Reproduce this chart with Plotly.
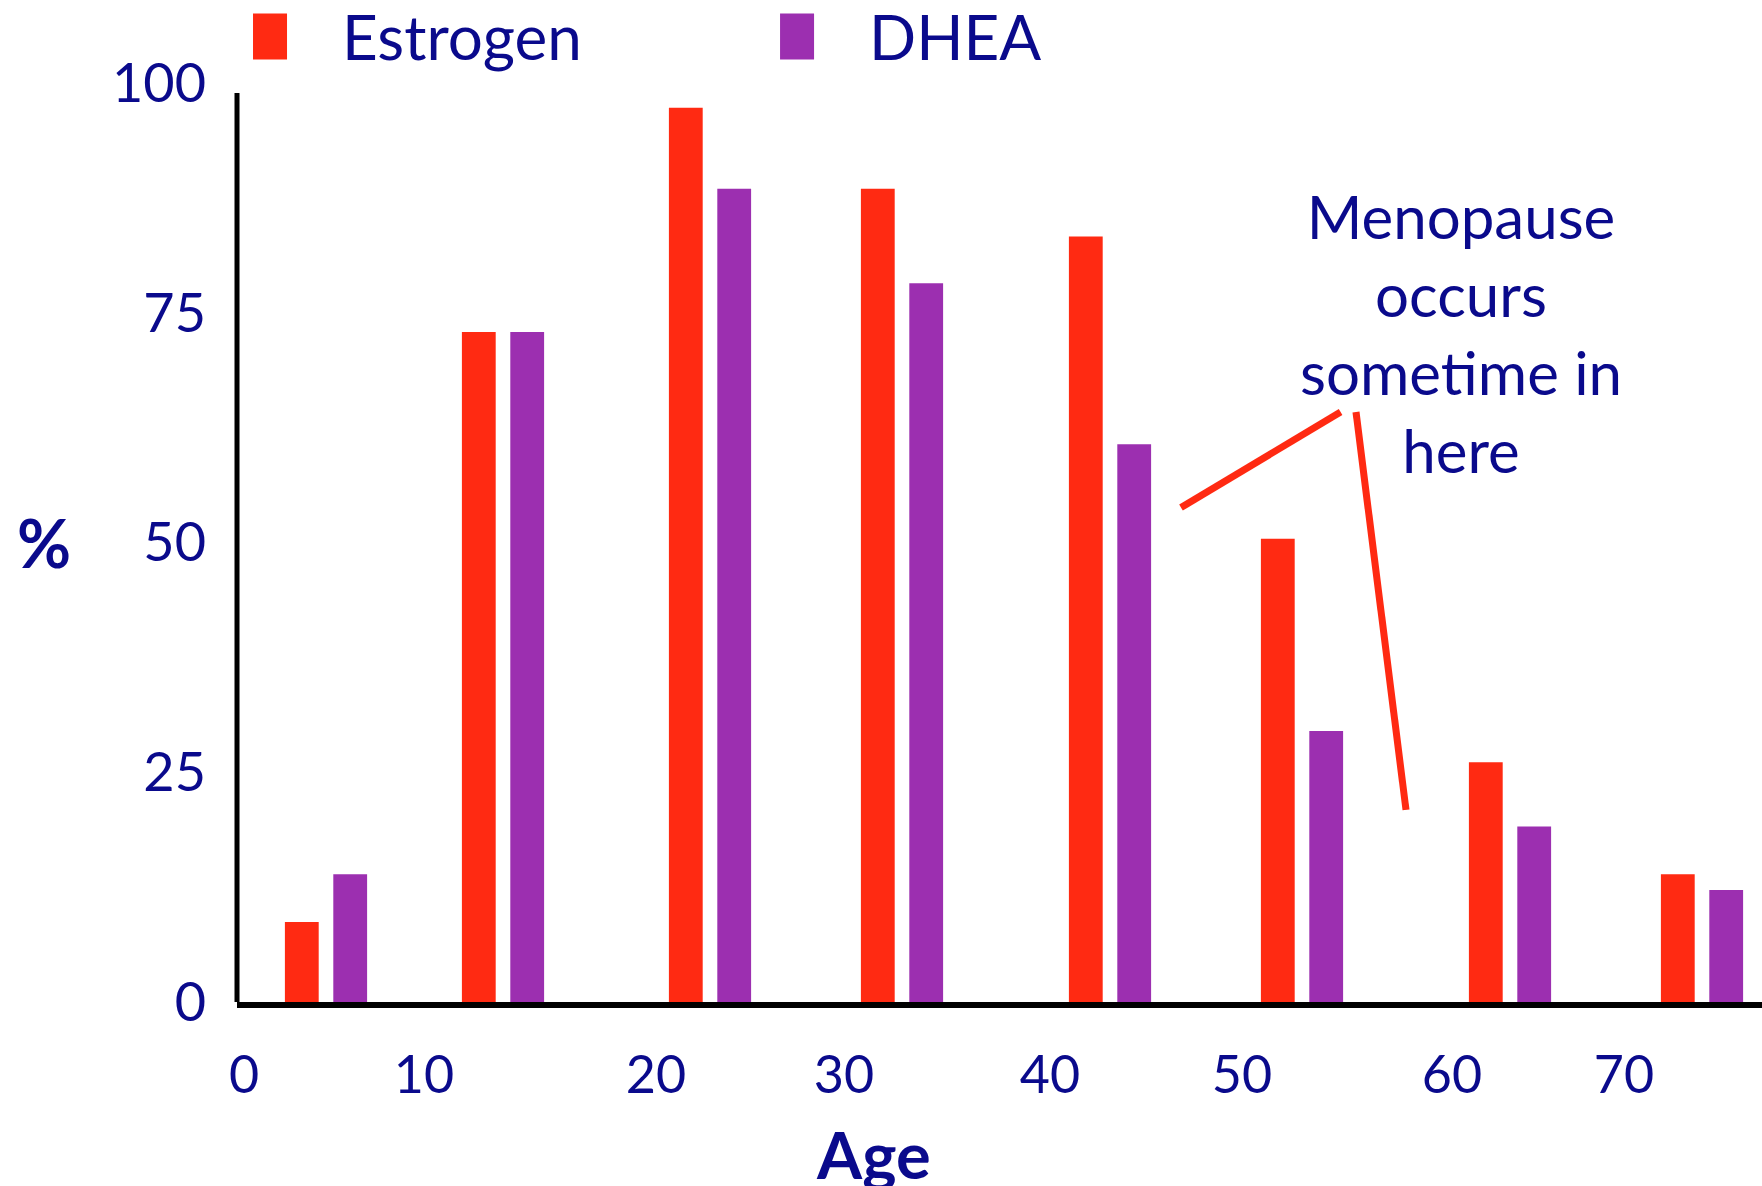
import plotly.graph_objects as go

# Hormone levels by age group (percent of peak)
group_age = [4.1, 12.95, 23.3, 32.9, 43.3, 52.9, 63.3, 72.9]
estrogen = [8.7, 72.9, 97.3, 88.5, 83.3, 50.4, 26.1, 13.9]
dhea = [13.9, 72.9, 88.5, 78.2, 60.7, 29.5, 19.1, 12.2]

# Age axis labels and where they sit along the axis
tick_text = ["0", "10", "20", "30", "40", "50", "60", "70"]
tick_pos = [0.0, 9.0, 20.6, 30.0, 40.3, 49.9, 60.4, 69.0]

y_ticks = [0, 25, 50, 75, 100]

NAVY = "#0a0a8c"
RED = "#ff2a12"
PURPLE = "#9c2fb0"
FONT = "Lato"

bar_w = 1.69
half_gap = 1.21

fig = go.Figure()
fig.add_trace(go.Bar(
    x=group_age, y=estrogen, name="Estrogen",
    width=bar_w, offset=-half_gap - bar_w / 2,
    marker=dict(color=RED, line=dict(width=0)), showlegend=False,
))
fig.add_trace(go.Bar(
    x=group_age, y=dhea, name="DHEA",
    width=bar_w, offset=half_gap - bar_w / 2,
    marker=dict(color=PURPLE, line=dict(width=0)), showlegend=False,
))

fig.update_layout(
    width=1762, height=1186,
    margin=dict(l=237, r=0, t=83, b=184),
    paper_bgcolor="white", plot_bgcolor="white",
    barmode="overlay",
    font=dict(family=FONT, color=NAVY),
    xaxis=dict(
        range=[-0.35, 75.9], showgrid=False, zeroline=False,
        showline=True, linecolor="black", linewidth=6,
        tickmode="array", tickvals=tick_pos, ticktext=tick_text,
        ticks="", tickfont=dict(size=52, color=NAVY, family=FONT),
        ticklabelstandoff=23,
    ),
    yaxis=dict(
        range=[0, 100], showgrid=False, zeroline=False, showline=False,
        tickmode="array", tickvals=y_ticks,
        ticks="", tickfont=dict(size=54, color=NAVY, family=FONT),
        ticklabelstandoff=30,
    ),
)

# vertical axis line stopping just below the top tick
fig.add_shape(type="line", xref="paper", yref="y", x0=0, x1=0, y0=0, y1=98.9,
              line=dict(color="black", width=5))

# callout pointers
pointer_color = RED
fig.add_shape(type="line", xref="x", yref="y", x0=46.85, y0=53.8, x1=54.83, y1=64.2,
              line=dict(color=pointer_color, width=7))
fig.add_shape(type="line", xref="x", yref="y", x0=55.6, y0=64.2, x1=58.1, y1=20.9,
              line=dict(color=pointer_color, width=7))

fig.add_annotation(
    text="Menopause<br>occurs<br>sometime in<br>here",
    xref="x", yref="y", x=60.85, y=72.8, xanchor="center", yanchor="middle",
    showarrow=False, align="center",
    font=dict(size=60, color=NAVY, family=FONT),
)

# legend swatches and labels
for x0, x1, color, label, tx in [
    (0.0105, 0.0328, RED, "Estrogen", 0.0675),
    (0.3561, 0.3784, PURPLE, "DHEA", 0.4131),
]:
    fig.add_shape(type="rect", xref="paper", yref="paper", x0=x0, x1=x1,
                  y0=1.0256, y1=1.0756, fillcolor=color, line=dict(width=0))
    fig.add_annotation(text=label, xref="paper", yref="paper", x=tx, y=1.051,
                       xanchor="left", yanchor="middle", showarrow=False,
                       font=dict(size=62, color=NAVY, family=FONT))

# axis titles
fig.add_annotation(text="<b>Age</b>", xref="paper", yref="paper", x=(873 - 237) / 1525,
                   y=-0.165, xanchor="center", yanchor="middle", showarrow=False,
                   font=dict(size=65, color=NAVY, family=FONT))
fig.add_annotation(text="<b>%</b>", xref="paper", yref="paper", x=-0.1266, y=0.5,
                   xanchor="center", yanchor="middle", showarrow=False,
                   font=dict(size=66, color=NAVY, family=FONT))

fig.write_html("out.html")
